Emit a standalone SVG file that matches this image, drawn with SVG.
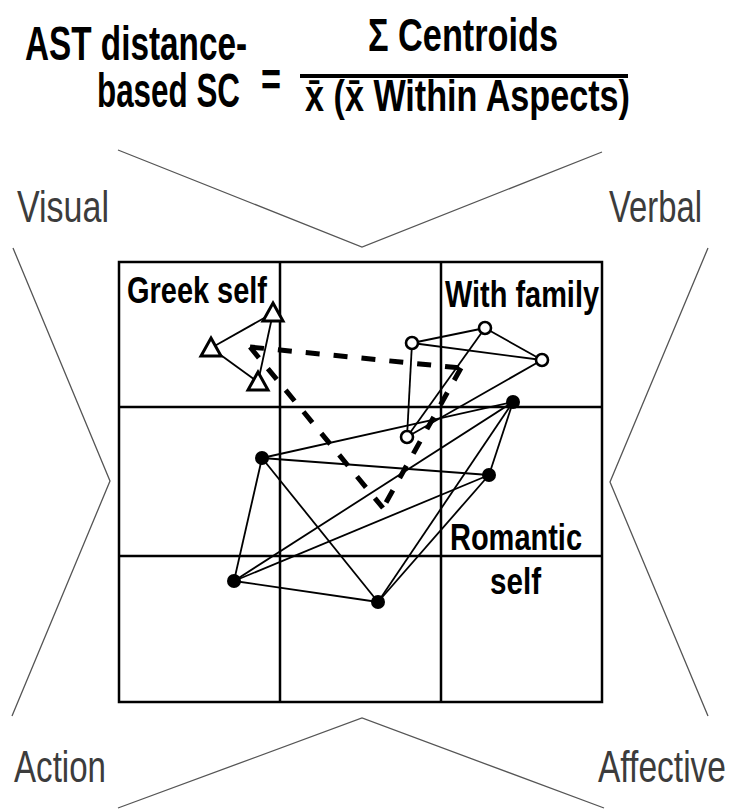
<svg xmlns="http://www.w3.org/2000/svg" width="730" height="810" viewBox="0 0 730 810">
<style>
.t{font-family:"Liberation Sans",Arial,sans-serif;font-weight:bold;fill:#000}
.lab{font-family:"Liberation Sans",Arial,sans-serif;font-weight:normal;fill:#3c3c3c}
.thin{stroke:#555;stroke-width:1.3;fill:none}
.grid{stroke:#000;stroke-width:2.5;fill:none}
.e{stroke:#000;stroke-width:1.8}
.dash{stroke:#000;stroke-width:5;stroke-dasharray:14 14;fill:none}
.tri{fill:#fff;stroke:#000;stroke-width:3;stroke-linejoin:miter}
.oc{fill:#fff;stroke:#000;stroke-width:2.6}
.fc{fill:#000}
</style>
<rect width="730" height="810" fill="#fff"/>
<g id="formula">
<text class="t" x="25" y="60" font-size="48" textLength="222" lengthAdjust="spacingAndGlyphs">AST distance-</text>
<text class="t" x="97" y="107" font-size="48" textLength="143" lengthAdjust="spacingAndGlyphs">based SC</text>
<text class="t" x="261" y="96" font-size="48" textLength="20" lengthAdjust="spacingAndGlyphs">=</text>
<text class="t" x="368" y="51" font-size="46" textLength="190" lengthAdjust="spacingAndGlyphs">Σ Centroids</text>
<rect x="300" y="74" width="328" height="4" fill="#000"/>
<text class="t" x="305" y="111" font-size="44" textLength="325" lengthAdjust="spacingAndGlyphs">x̄ (x̄ Within Aspects)</text>
</g>
<g id="frame-lines">
<polyline class="thin" points="118,150 362,247 602,152"/>
<polyline class="thin" points="118,808 362,718 604,808"/>
<polyline class="thin" points="13,248 110,481 12,716"/>
<polyline class="thin" points="708,248 610,482 708,716"/>
</g>
<g id="aspect-labels">
<text class="lab" x="17" y="222" font-size="44" textLength="92" lengthAdjust="spacingAndGlyphs">Visual</text>
<text class="lab" x="609" y="222" font-size="44" textLength="93" lengthAdjust="spacingAndGlyphs">Verbal</text>
<text class="lab" x="14" y="782" font-size="44" textLength="92" lengthAdjust="spacingAndGlyphs">Action</text>
<text class="lab" x="598" y="782" font-size="44" textLength="128" lengthAdjust="spacingAndGlyphs">Affective</text>
</g>
<g id="grid">
<rect class="grid" x="119" y="262" width="483" height="440"/>
<line class="grid" x1="280" y1="262" x2="280" y2="702"/>
<line class="grid" x1="441" y1="262" x2="441" y2="702"/>
<line class="grid" x1="119" y1="407" x2="602" y2="407"/>
<line class="grid" x1="119" y1="556" x2="602" y2="556"/>
</g>
<g id="connectors">
<g id="centroid-links">
<line class="dash" x1="250" y1="347" x2="461" y2="368"/>
<line class="dash" x1="461" y1="368" x2="383" y2="508"/>
<line class="dash" x1="250" y1="347" x2="383" y2="508"/>
</g>
<g id="greek-edges">
<line class="e" x1="273" y1="313" x2="211" y2="348"/>
<line class="e" x1="273" y1="313" x2="258" y2="382"/>
<line class="e" x1="211" y1="348" x2="258" y2="382"/>
</g>
<g id="family-edges">
<line class="e" x1="412" y1="343" x2="485" y2="328"/>
<line class="e" x1="412" y1="343" x2="542" y2="360"/>
<line class="e" x1="485" y1="328" x2="542" y2="360"/>
<line class="e" x1="412" y1="343" x2="407" y2="437"/>
<line class="e" x1="485" y1="328" x2="407" y2="437"/>
<line class="e" x1="542" y1="360" x2="407" y2="437"/>
</g>
<g id="romantic-edges">
<line class="e" x1="513" y1="402" x2="262" y2="458"/>
<line class="e" x1="513" y1="402" x2="489" y2="475"/>
<line class="e" x1="513" y1="402" x2="234" y2="581"/>
<line class="e" x1="513" y1="402" x2="378" y2="602"/>
<line class="e" x1="262" y1="458" x2="489" y2="475"/>
<line class="e" x1="262" y1="458" x2="234" y2="581"/>
<line class="e" x1="262" y1="458" x2="378" y2="602"/>
<line class="e" x1="489" y1="475" x2="234" y2="581"/>
<line class="e" x1="489" y1="475" x2="378" y2="602"/>
<line class="e" x1="234" y1="581" x2="378" y2="602"/>
</g>
</g>
<g id="greek-self">
<polygon class="tri" points="273,303 283,321 263,321"/>
<polygon class="tri" points="211,338 221,356 201,356"/>
<polygon class="tri" points="258,372 268,390 248,390"/>
<text class="t" x="127" y="303" font-size="37" textLength="140" lengthAdjust="spacingAndGlyphs">Greek self</text>
</g>
<g id="with-family">
<circle class="oc" cx="412" cy="343" r="6"/>
<circle class="oc" cx="485" cy="328" r="6"/>
<circle class="oc" cx="542" cy="360" r="6"/>
<circle class="oc" cx="407" cy="437" r="6"/>
<text class="t" x="445" y="307" font-size="37" textLength="154" lengthAdjust="spacingAndGlyphs">With family</text>
</g>
<g id="romantic-self">
<circle class="fc" cx="513" cy="402" r="7"/>
<circle class="fc" cx="262" cy="458" r="7"/>
<circle class="fc" cx="489" cy="475" r="7"/>
<circle class="fc" cx="234" cy="581" r="7"/>
<circle class="fc" cx="378" cy="602" r="7"/>
<text class="t" x="450" y="550" font-size="37" textLength="132" lengthAdjust="spacingAndGlyphs">Romantic</text>
<text class="t" x="490" y="594" font-size="37" textLength="51" lengthAdjust="spacingAndGlyphs">self</text>
</g>
</svg>
